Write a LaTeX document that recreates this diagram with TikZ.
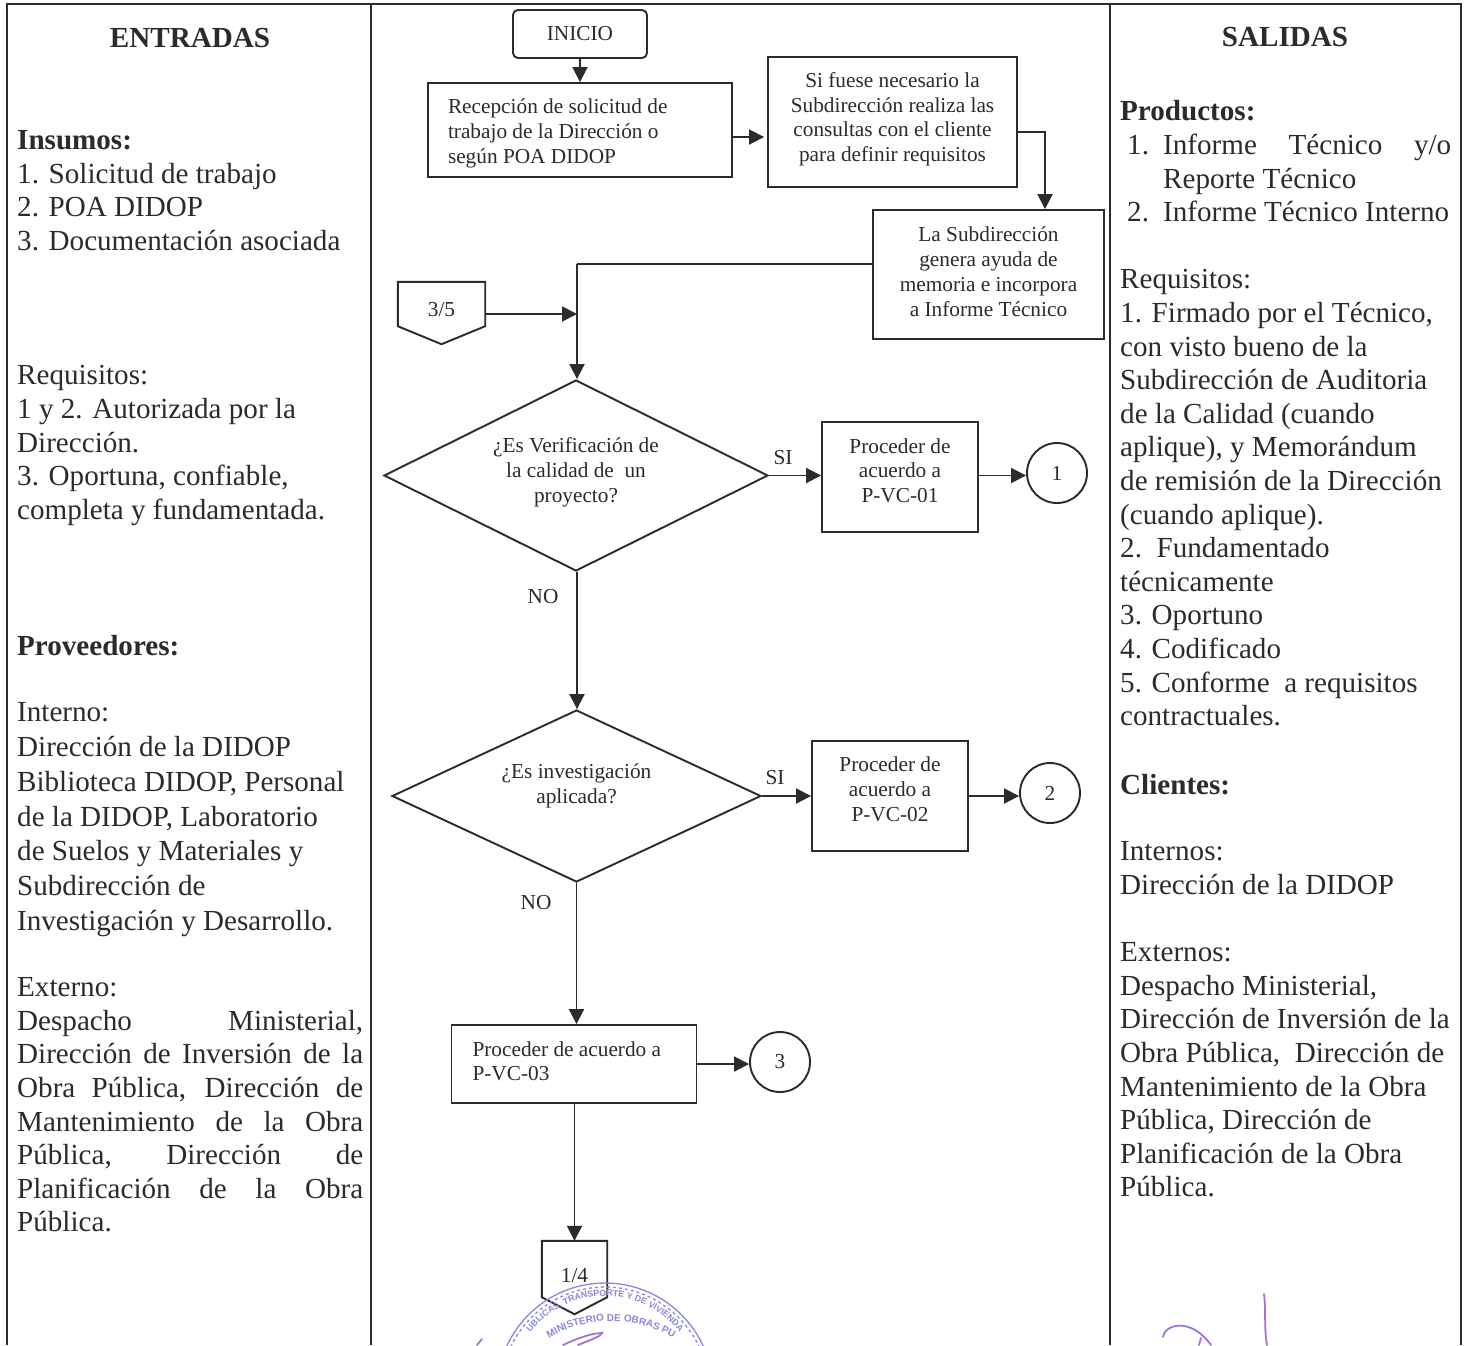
\documentclass[tikz,border=0pt]{standalone}
\usepackage{fontspec}
\setmainfont{Liberation Serif}
\newfontfamily\stampfont{Liberation Sans}
\usepackage{tikz}
\usetikzlibrary{shapes.geometric}
\usetikzlibrary{arrows.meta}
\usetikzlibrary{decorations.text}

\definecolor{inkline}{gray}{0.17}
\definecolor{stampblue}{RGB}{140,135,225}
\definecolor{signviolet}{RGB}{160,115,220}

\newcommand{\bodysize}{\fontsize{29.1}{33.6}\selectfont}
\newcommand{\flowsize}{\fontsize{21.3}{24.8}\selectfont}
\newcommand{\jline}[2][346pt]{\makebox[#1][s]{#2}}
% extra depth under the last line moves the text of a box upward
\newcommand{\liftby}[1]{\rule[-#1]{0pt}{#1}}

\tikzset{
    coltext/.style = {anchor = north west, inner sep = 0pt, align = left,
        font = \bodysize, text = inkline},
    coltitle/.style = {inner sep = 0pt, font = \bodysize\bfseries, text = inkline},
    flowbox/.style = {draw = inkline, line width = 1.9pt, inner sep = 0pt,
        font = \flowsize, text = inkline, align = center},
    flowtag/.style = {inner sep = 0pt, font = \flowsize, text = inkline},
    flowarrow/.style = {draw = inkline, line width = 1.9pt,
        -{Triangle[length = 15pt, width = 15pt]}},
    flowline/.style = {draw = inkline, line width = 1.9pt},
    frameline/.style = {draw = inkline, line width = 2pt},
    stampring/.style = {draw = stampblue, line width = 1.3pt},
    signstroke/.style = {draw = signviolet, line width = 1.8pt, line cap = round}
}

\begin{document}
\begin{tikzpicture}[x = 1pt, y = -1pt]
    \useasboundingbox (0,0) rectangle (1466,1345);
    \fill[white] (0,0) rectangle (1466,1345);

    % frame
    \draw[frameline] (7,1345) -- (7,4) -- (1461,4) -- (1461,1345);
    \draw[frameline] (371,4) -- (371,1345);
    \draw[frameline] (1110,4) -- (1110,1345);

    % left column
    \node[coltitle] (entradas) at (190,38) {ENTRADAS};
    \node[coltext] (insumos) at (17,130.5) {\textbf{Insumos:}\\
        1. Solicitud de trabajo\\
        2. POA DIDOP\\
        3. Documentación asociada};
    \node[coltext] (reqin) at (17,365.5) {Requisitos:\\
        1 y 2. Autorizada por la\\
        Dirección.\\
        3. Oportuna, confiable,\\
        completa y fundamentada.};
    \node[coltext] (proveedores) at (17,635) {\textbf{Proveedores:}};
    \node[coltext, font = \fontsize{29.1}{34.8}\selectfont] (interno) at (17,702.5) {Interno:\\
        Dirección de la DIDOP\\
        Biblioteca DIDOP, Personal\\
        de la DIDOP, Laboratorio\\
        de Suelos y Materiales y\\
        Subdirección de\\
        Investigación y Desarrollo.};
    \node[coltext] (externo) at (17,977.5) {Externo:\\
        \jline{Despacho \hfill Ministerial,}\\
        \jline{Dirección de Inversión de la}\\
        \jline{Obra Pública, Dirección de}\\
        \jline{Mantenimiento de la Obra}\\
        \jline{Pública, \hfill Dirección \hfill de}\\
        \jline{Planificación de la Obra}\\
        Pública.};

    % right column
    \node[coltitle] (salidas) at (1285,37) {SALIDAS};
    \node[coltext] (productos) at (1120,100.5) {\textbf{Productos:}\\
        \hspace*{7pt}\makebox[36pt][l]{1.}\jline[288pt]{Informe \hfill Técnico \hfill y/o}\\
        \hspace*{43pt}Reporte Técnico\\
        \hspace*{7pt}\makebox[36pt][l]{2.}Informe Técnico Interno};
    \node[coltext] (reqout) at (1120,269.5) {Requisitos:\\
        1. Firmado por el Técnico,\\
        con visto bueno de la\\
        Subdirección de Auditoria\\
        de la Calidad (cuando\\
        aplique), y Memorándum\\
        de remisión de la Dirección\\
        (cuando aplique).\\
        2.\ \ Fundamentado\\
        técnicamente\\
        3. Oportuno\\
        4. Codificado\\
        5. Conforme \ a requisitos\\
        contractuales.};
    \node[coltext] (clientes) at (1120,774.5) {\textbf{Clientes:}};
    \node[coltext] (internos) at (1120,841.5) {Internos:\\
        Dirección de la DIDOP};
    \node[coltext] (externos) at (1120,942.5) {Externos:\\
        Despacho Ministerial,\\
        Dirección de Inversión de la\\
        Obra Pública, \ Dirección de\\
        Mantenimiento de la Obra\\
        Pública, Dirección de\\
        Planificación de la Obra\\
        Pública.};

    % flow, top part
    \node[flowbox, rounded corners = 5pt,
        minimum width = 134pt, minimum height = 48pt] (inicio) at (580,34) {INICIO};
    \node[flowbox,
        minimum width = 304pt, minimum height = 94pt] (recepcion) at (580,130)
        {\makebox[264pt][l]{\rule{0pt}{21pt}Recepción de solicitud de}\\
         \makebox[264pt][l]{trabajo de la Dirección o}\\
         \makebox[264pt][l]{según POA DIDOP}};
    \node[flowbox,
        minimum width = 249pt, minimum height = 130pt] (consultas) at (892.5,122)
        {Si fuese necesario la\\ Subdirección realiza las\\ consultas con el cliente\\ para definir requisitos\liftby{10pt}};
    \node[flowbox,
        minimum width = 231pt, minimum height = 129pt] (ayuda) at (988.5,274.5)
        {La Subdirección\\ genera ayuda de\\ memoria e incorpora\\ a Informe Técnico\liftby{6pt}};

    \node[flowtag, minimum width = 87pt, minimum height = 62pt] (pag35) at (441.5,313)
        {\raisebox{8pt}{3/5}};
    \draw[flowline] (pag35.north west) -- (pag35.north east) -- ([yshift = 18pt]pag35.south east)
        -- (pag35.south) -- ([yshift = 18pt]pag35.south west) -- cycle;

    % first decision
    \node[flowbox, diamond, aspect = 2,
        minimum width = 384pt, minimum height = 191pt] (verif) at (576,475.5)
        {¿Es Verificación de\\ la calidad de \ un\\ proyecto?\liftby{10.6pt}};
    \node[flowbox,
        minimum width = 156pt, minimum height = 110pt] (vc01) at (900,477)
        {Proceder de\\ acuerdo a\\ P-VC-01\liftby{13pt}};
    \node[flowbox, circle, minimum size = 60pt] (uno) at (1057,473) {1};
    \node[flowtag] (si1) at (783,457.5) {SI};
    \node[flowtag] (no1) at (543,596.5) {NO};

    % second decision
    \node[flowbox, diamond, aspect = 2,
        minimum width = 369pt, minimum height = 172pt] (invest) at (576.5,796)
        {¿Es investigación\\ aplicada?\liftby{25.6pt}};
    \node[flowbox,
        minimum width = 156pt, minimum height = 110pt] (vc02) at (890,796)
        {Proceder de\\ acuerdo a\\ P-VC-02\liftby{14pt}};
    \node[flowbox, circle, minimum size = 60pt] (dos) at (1050,793) {2};
    \node[flowtag] (si2) at (775,777.5) {SI};
    \node[flowtag] (no2) at (536,902.5) {NO};

    % last steps
    \node[flowbox,
        minimum width = 245pt, minimum height = 78pt] (vc03) at (574,1064)
        {\makebox[203pt][l]{Proceder de acuerdo a}\\ \makebox[203pt][l]{P-VC-03}\liftby{6pt}};
    \node[flowbox, circle, minimum size = 60pt] (tres) at (780,1062) {3};

    % connectors
    \draw[flowarrow] (inicio) -- (recepcion);
    \draw[flowarrow] (recepcion.east |- 0,137) -- ([xshift = -3pt]consultas.west |- 0,137);
    \coordinate (codo) at (ayuda.north -| 1045,0);
    \draw[flowarrow] (consultas.east |- 0,132) -| (codo);
    \coordinate (cruce) at (577,264);
    \draw[flowline] (ayuda.west |- cruce) -- (cruce);
    \draw[flowarrow] (cruce) -- (verif.north -| cruce);
    \draw[flowarrow] (pag35.east |- 0,314) -- (cruce |- 0,314);
    \draw[flowarrow] (verif.east) -- (vc01.west |- verif.east);
    \draw[flowarrow] (vc01.east |- verif.east) -- (uno.west |- verif.east);
    \draw[flowarrow] (verif.south -| cruce) -- (invest.north -| cruce);
    \draw[flowarrow] (invest.east) -- (vc02.west |- invest.east);
    \draw[flowarrow] (vc02.east |- invest.east) -- (dos.west |- invest.east);
    \draw[flowarrow] (invest.south) -- (invest.south |- vc03.north);
    \draw[flowarrow] (vc03.east |- vc03.east) -- (tres.west |- vc03.east);

    \node[flowtag, minimum width = 65pt, minimum height = 73pt] (pag14) at (574.5,1277.5)
        {\raisebox{5pt}{1/4}};
    \draw[flowline] (pag14.north west) -- (pag14.north east) -- ([yshift = 17pt]pag14.south east)
        -- (pag14.south) -- ([yshift = 17pt]pag14.south west) -- cycle;
    \draw[flowarrow] (vc03.south -| pag14) -- (pag14.north);

    % stamp and signatures, cut by the page edge
    \begin{scope}
        \clip (0,0) rectangle (1466,1345);
        \draw[stampring] (605,1391) circle (108);
        \draw[stampring, dashed] (605,1391) circle (104);
        \path[decorate, decoration = {text along path, text align = center,
            text = {|\stampfont\fontsize{8.8}{10}\selectfont\bfseries\color{stampblue}|UBLICAS, TRANSPORTE Y DE VIVIENDA}}]
            (605,1391) ++(212:95) arc[start angle = 212, end angle = 328, radius = 95];
        \path[decorate, decoration = {text along path, text align = center,
            text = {|\stampfont\fontsize{10}{10}\selectfont\bfseries\color{stampblue}|MINISTERIO DE OBRAS PU}}]
            (611,1442) ++(236:121) arc[start angle = 236, end angle = 304, radius = 121];
        \draw[signstroke] (477,1345) -- (482,1339);
        \draw[signstroke] (563,1345) .. controls (578,1338) and (592,1333) .. (602,1333)
            .. controls (600,1337) and (590,1340) .. (578,1345);
        \draw[signstroke] (1163,1337) .. controls (1164,1325) and (1190,1316) .. (1211,1345);
        \draw[signstroke] (1264,1294) .. controls (1266,1310) and (1264,1330) .. (1267,1345);
        \draw[signstroke] (1199,1345) -- (1201,1338);
    \end{scope}
\end{tikzpicture}
\end{document}
